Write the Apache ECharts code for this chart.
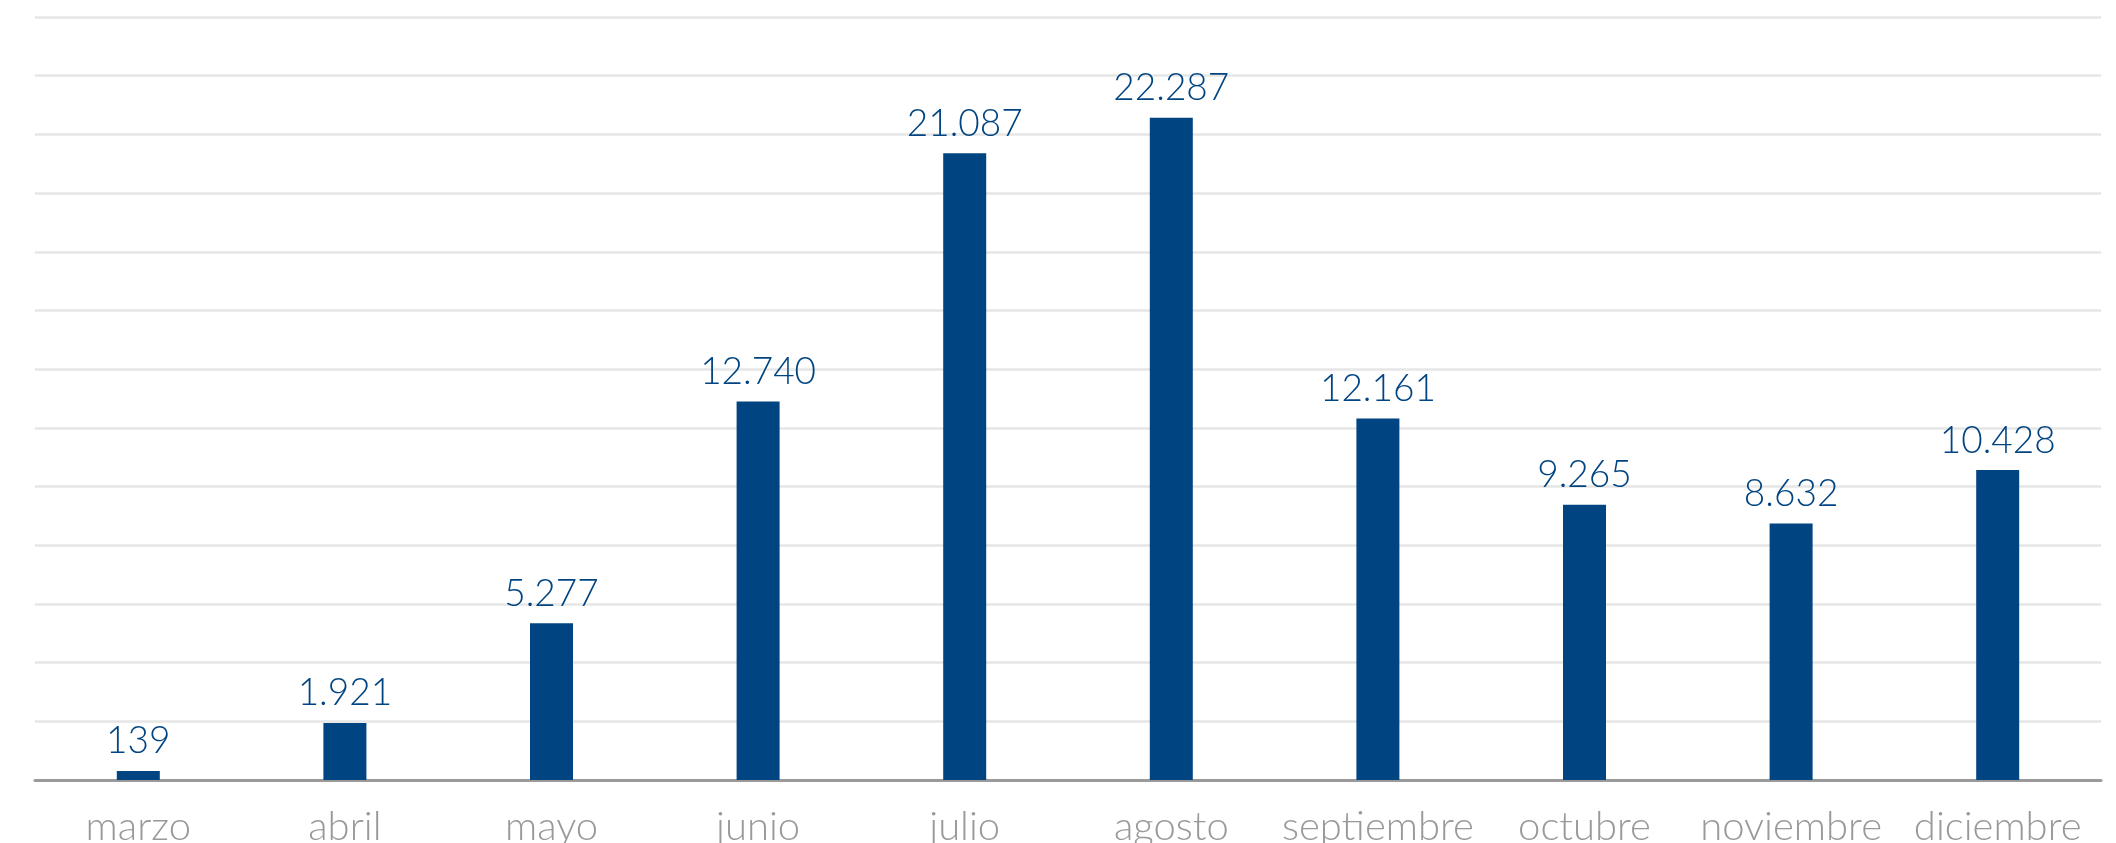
<!DOCTYPE html>
<html>
<head>
<meta charset="utf-8">
<script src="https://cdn.jsdelivr.net/npm/echarts@6/dist/echarts.min.js"></script>
<style>
  html, body { margin: 0; padding: 0; background: #ffffff; }
  #chart { width: 2116px; height: 843px; }
</style>
</head>
<body>
<div id="chart"></div>
<script>
// Monthly totals, March to December
const months = ['marzo', 'abril', 'mayo', 'junio', 'julio', 'agosto', 'septiembre', 'octubre', 'noviembre', 'diciembre'];
const totals = [139, 1921, 5277, 12740, 21087, 22287, 12161, 9265, 8632, 10428];

// Value axis: 13 light grid bands, no tick labels shown
const axisMin = 0;
const axisStep = 1975;
const axisMax = 25675;

const blue = '#004481';
const fmt = v => String(v).replace(/\B(?=(\d{3})+(?!\d))/g, '.');

const chart = echarts.init(document.getElementById('chart'), null, { renderer: 'canvas' });
chart.setOption({
  animation: false,
  backgroundColor: '#ffffff',
  grid: { left: 35, right: 15, top: 17, bottom: 63, containLabel: false, outerBoundsMode: 'none' },
  xAxis: {
    type: 'category',
    data: months,
    axisTick: { show: false },
    axisLine: { lineStyle: { color: '#9a9a9a', width: 3 } },
    axisLabel: {
      color: '#999999',
      fontFamily: 'Lato, "Open Sans", sans-serif',
      fontWeight: 300,
      fontSize: 40,
      margin: 27,
      interval: 0
    }
  },
  yAxis: {
    type: 'value',
    min: axisMin,
    max: axisMax,
    interval: axisStep,
    axisLabel: { show: false },
    axisLine: { show: false },
    axisTick: { show: false },
    splitLine: { lineStyle: { color: '#e6e6e6', width: 2.5 } }
  },
  series: [{
    type: 'bar',
    data: totals,
    barWidth: 43,
    barMinHeight: 9,
    itemStyle: { color: blue },
    label: {
      show: true,
      position: 'top',
      distance: 11,
      color: blue,
      fontFamily: 'Lato, "Open Sans", sans-serif',
      fontWeight: 300,
      fontSize: 37,
      formatter: p => fmt(p.value)
    }
  }]
});
</script>
</body>
</html>
